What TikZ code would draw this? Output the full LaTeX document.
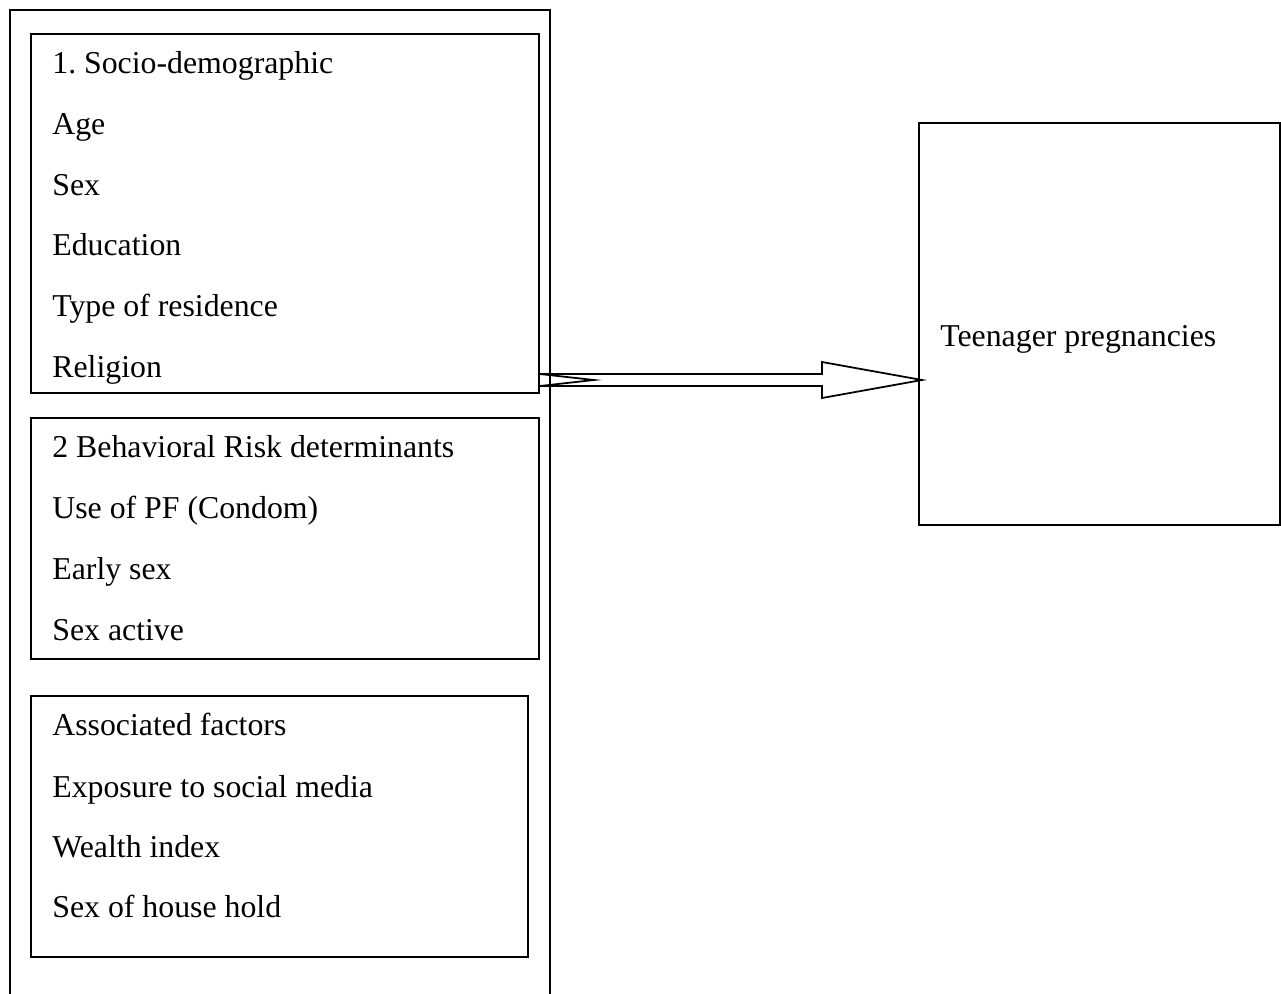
\documentclass[tikz,border=0pt]{standalone}
\usepackage{fontspec}
\setmainfont{Liberation Serif}
\usepackage{tikz}
\usetikzlibrary{calc,positioning}
\frenchspacing
\tikzset{
  frm/.style={draw=black,line width=1.1pt},
  bx/.style={draw=black,line width=1.1pt,rectangle,inner sep=0pt,anchor=north west},
  lbl/.style={anchor=base west,inner sep=0pt,font=\fontsize{18.1}{21}\selectfont},
  blk/.style={draw=black,line width=1pt,fill=white,line join=miter}
}
\begin{document}
\begin{tikzpicture}
\useasboundingbox (0,0) rectangle (25.62,-19.88);
% outer frame, open at the bottom
\draw[frm] (0.2,-19.88) |- (11.0,-0.2) -- (11.0,-19.88);
\node[bx,minimum width=10.16cm,minimum height=7.18cm] (soc) at (0.6,-0.66) {};
\node[bx,minimum width=10.16cm,minimum height=4.82cm] (beh) at (0.6,-8.34) {};
\node[bx,minimum width=9.94cm,minimum height=5.22cm] (ass) at (0.6,-13.9) {};
\node[bx,minimum width=7.22cm,minimum height=8.04cm] (teen) at (18.36,-2.44) {};
\foreach \t/\y [count=\i] in {1. Socio-demographic/73,Age/134,Sex/195,Education/255,Type of residence/316,Religion/377}
  \node[lbl] (s\i) at (1.04,-\y*0.02) {\t};
\foreach \t/\y [count=\i] in {2 Behavioral Risk determinants/457,Use of PF (Condom)/518,Early sex/579,Sex active/640}
  \node[lbl] (b\i) at (1.04,-\y*0.02) {\t};
\foreach \t/\y [count=\i] in {Associated factors/735,Exposure to social media/797,Wealth index/857,Sex of house hold/917}
  \node[lbl] (a\i) at (1.04,-\y*0.02) {\t};
\node[lbl] (tp) at (18.8,-6.92) {Teenager pregnancies};
% notched block arrow
\coordinate (st) at (soc.east |- 0,-7.6);
\coordinate (tip) at ($(teen.west |- st)+(0.08,0)$);
\draw[blk] ($(st)+(0,0.12)$) -- ($(tip)+(-2,0.12)$) -- ($(tip)+(-2,0.36)$) -- (tip)
  -- ($(tip)+(-2,-0.36)$) -- ($(tip)+(-2,-0.12)$) -- ($(st)+(0,-0.12)$)
  -- ($(st)+(1.08,0)$) -- cycle;
\end{tikzpicture}
\end{document}
